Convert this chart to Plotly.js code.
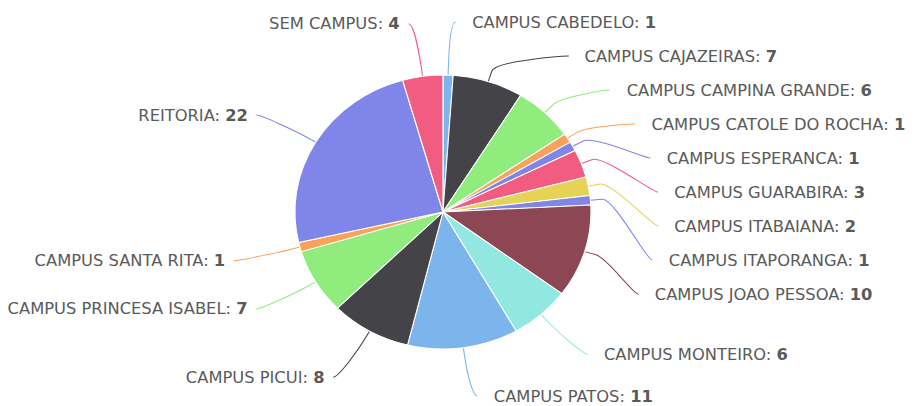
<!DOCTYPE html>
<html>
<head>
<meta charset="utf-8">
<script src="https://cdn.plot.ly/plotly-3.0.1.min.js"></script>
<style>
html, body { margin: 0; padding: 0; background: #ffffff; overflow: hidden; }
#wrap { width: 914px; height: 406px; overflow: hidden; }
#chart { width: 846px; height: 406px; transform: scaleX(1.0804); transform-origin: 0 0; }
</style>
</head>
<body>
<div id="wrap"><div id="chart"></div></div>
<script>
// ---- data ----
const categories = [
  "CAMPUS CABEDELO", "CAMPUS CAJAZEIRAS", "CAMPUS CAMPINA GRANDE", "CAMPUS CATOLE DO ROCHA",
  "CAMPUS ESPERANCA", "CAMPUS GUARABIRA", "CAMPUS ITABAIANA", "CAMPUS ITAPORANGA",
  "CAMPUS JOAO PESSOA", "CAMPUS MONTEIRO", "CAMPUS PATOS", "CAMPUS PICUI",
  "CAMPUS PRINCESA ISABEL", "CAMPUS SANTA RITA", "REITORIA", "SEM CAMPUS"
];
const counts = [1, 7, 6, 1, 1, 3, 2, 1, 10, 6, 11, 8, 7, 1, 22, 4];
const sliceColors = [
  "#7cb5ec", "#434348", "#90ed7d", "#f7a35c", "#8085e9", "#f15c80", "#e4d354", "#8085e8",
  "#8d4653", "#91e8e1", "#7cb5ec", "#434348", "#90ed7d", "#f7a35c", "#8085e9", "#f15c80"
];

// ---- layout geometry (unstretched px) ----
const W = 846, H = 406;
const CX = 410, CY = 212, R = 137;
const LRX = 195, LRY = 190;   // label ellipse
const SLOT = 34;              // min vertical label spacing
const TOP = 20, BOTTOM = 396; // keep label text inside the picture

const total = counts.reduce((a, b) => a + b, 0);
const px = x => x / W;
const py = y => 1 - y / H;

// label placement computed from the data
let cum = 0;
const items = counts.map((v, i) => {
  const th = (cum + v / 2) / total * 2 * Math.PI;
  cum += v;
  const s = Math.sin(th), c = Math.cos(th);
  return { i, th, s, c, right: s >= 0, ny: CY - LRY * c };
});

function distribute(list) {
  list.sort((a, b) => a.ny - b.ny);
  let prev = -Infinity;
  list.forEach(it => { it.y = Math.max(it.ny, prev + SLOT); prev = it.y; });
  list.forEach(it => { it.yx = it.y; it.y = Math.min(Math.max(it.y, TOP), BOTTOM); });
}
distribute(items.filter(d => d.right));
distribute(items.filter(d => !d.right));

const annotations = [];
const shapes = [];
items.forEach(d => {
  const dy = d.yx - CY;
  const k = Math.sqrt(Math.max(0, 1 - (dy / LRY) * (dy / LRY)));
  const sign = d.right ? 1 : -1;
  const x = CX + sign * LRX * k;
  const endX = x + sign * 5;
  const edge = [CX + R * d.s, CY - R * d.c];
  const b2 = [CX + (R + 11) * d.s, CY - (R + 11) * d.c];
  const c2 = [2 * b2[0] - edge[0], 2 * b2[1] - edge[1]];
  const path = `M ${px(endX)},${py(d.y)} C ${px(x)},${py(d.y)} ${px(c2[0])},${py(c2[1])} ${px(b2[0])},${py(b2[1])} L ${px(edge[0])},${py(edge[1])}`;
  shapes.push({
    type: "path", xref: "paper", yref: "paper", path: path,
    line: { color: sliceColors[d.i], width: 1 }, layer: "below"
  });
  annotations.push({
    xref: "paper", yref: "paper",
    x: px(endX + sign * (d.right ? 13 : 6)), y: py(d.y + 0.5),
    xanchor: d.right ? "left" : "right", yanchor: "middle",
    showarrow: false,
    text: `${categories[d.i]}: <b>${counts[d.i]}</b>`,
    font: { family: "DejaVu Sans, sans-serif", size: 15.1, color: "#5a5a5a" }
  });
});

const trace = {
  type: "pie",
  labels: categories,
  values: counts,
  sort: false,
  direction: "clockwise",
  rotation: 0,
  textinfo: "none",
  hoverinfo: "label+value",
  marker: { colors: sliceColors, line: { color: "#ffffff", width: 1 } },
  domain: { x: [(CX - R) / W, (CX + R) / W], y: [(H - CY - R) / H, (H - CY + R) / H] },
  showlegend: false
};

Plotly.newPlot("chart", [trace], {
  width: W, height: H,
  margin: { l: 0, r: 0, t: 0, b: 0, pad: 0 },
  paper_bgcolor: "#ffffff",
  showlegend: false,
  annotations: annotations,
  shapes: shapes
}, { displayModeBar: false, staticPlot: true });
</script>
</body>
</html>
